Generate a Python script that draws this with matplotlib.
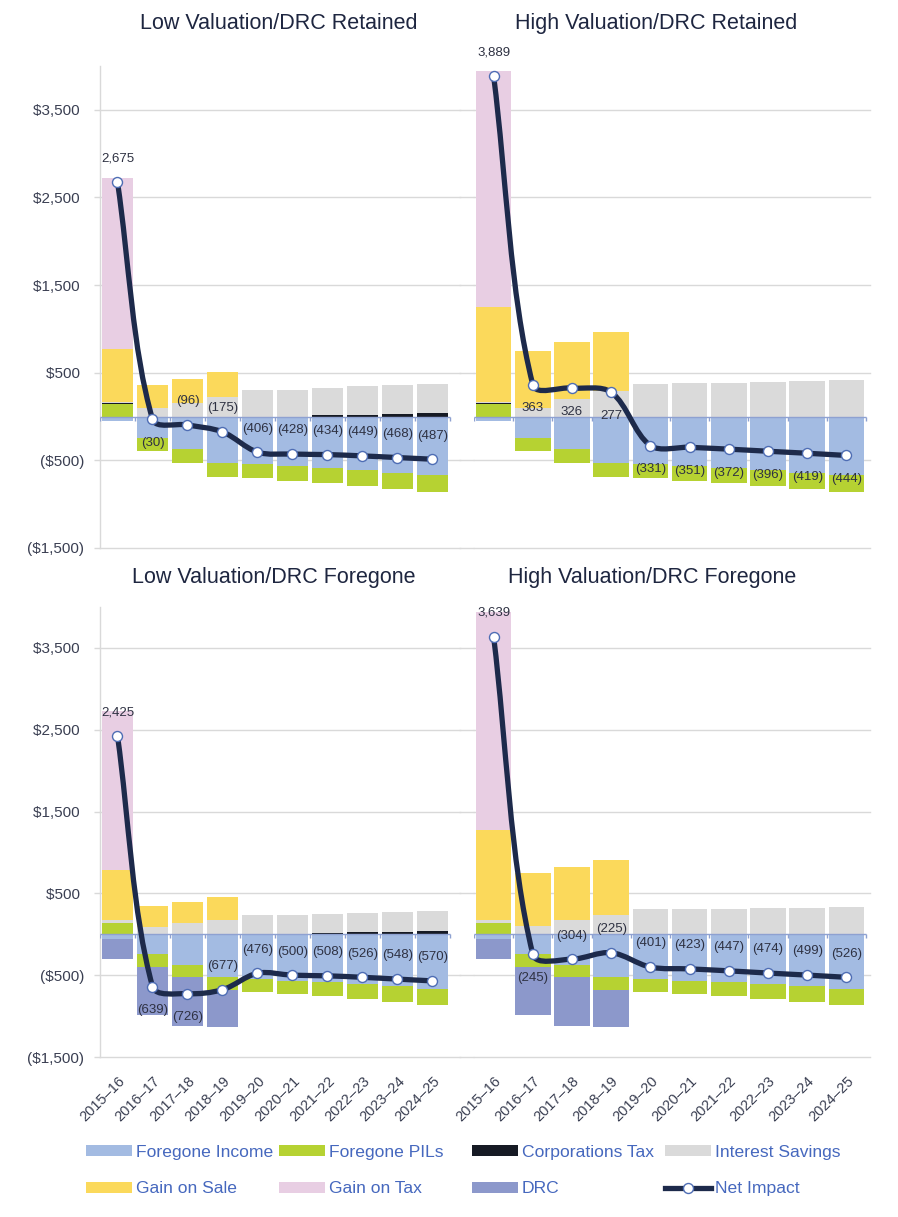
import numpy as np
import matplotlib
matplotlib.use('Agg')
import matplotlib.pyplot as plt
from matplotlib.path import Path
from matplotlib.patches import PathPatch, Patch
from matplotlib.lines import Line2D
from matplotlib.ticker import FuncFormatter, FixedLocator
import matplotlib.transforms as mtransforms

plt.rcParams['font.family'] = ['Liberation Sans', 'DejaVu Sans']

# ---------------- data ----------------
years = ['2015–16', '2016–17', '2017–18', '2018–19', '2019–20',
         '2020–21', '2021–22', '2022–23', '2023–24', '2024–25']

series_names = ['Foregone Income', 'Foregone PILs', 'Corporations Tax',
                'Interest Savings', 'Gain on Sale', 'Gain on Tax', 'DRC']

# Low Valuation / DRC Retained
lr_income   = [-50, -250, -370, -530, -540, -570, -585, -612, -640, -665]
lr_pils     = [140, -140, -160, -155, -165, -165, -175, -180, -185, -196]
lr_corp     = [10, 0, 0, 0, 0, 0, 15, 20, 30, 40]
lr_interest = [15, 95, 160, 225, 299, 307, 311, 323, 327, 334]
lr_sale     = [610, 265, 274, 285, 0, 0, 0, 0, 0, 0]
lr_taxgain  = [1950, 0, 0, 0, 0, 0, 0, 0, 0, 0]
lr_drc      = [0, 0, 0, 0, 0, 0, 0, 0, 0, 0]
lr_net      = [2675, -30, -96, -175, -406, -428, -434, -449, -468, -487]

# High Valuation / DRC Retained
hr_income   = [-50, -250, -370, -530, -540, -570, -585, -612, -640, -665]
hr_pils     = [140, -140, -160, -155, -165, -165, -175, -180, -185, -196]
hr_corp     = [10, 0, 0, 0, 0, 0, 0, 0, 0, 0]
hr_interest = [15, 100, 202, 286, 374, 384, 388, 396, 406, 417]
hr_sale     = [1090, 653, 654, 676, 0, 0, 0, 0, 0, 0]
hr_taxgain  = [2684, 0, 0, 0, 0, 0, 0, 0, 0, 0]
hr_drc      = [0, 0, 0, 0, 0, 0, 0, 0, 0, 0]
hr_net      = [3889, 363, 326, 277, -331, -351, -372, -396, -419, -444]

# Low Valuation / DRC Foregone
lf_income   = [-55, -245, -378, -525, -548, -565, -585, -612, -638, -670]
lf_pils     = [135, -155, -147, -155, -158, -170, -173, -180, -185, -190]
lf_corp     = [8, 0, 0, 0, 0, 0, 15, 25, 32, 40]
lf_interest = [35, 86, 139, 180, 230, 235, 235, 241, 243, 250]
lf_sale     = [612, 265, 260, 273, 0, 0, 0, 0, 0, 0]
lf_taxgain  = [1940, 0, 0, 0, 0, 0, 0, 0, 0, 0]
lf_drc      = [-250, -590, -600, -450, 0, 0, 0, 0, 0, 0]
lf_net      = [2425, -639, -726, -677, -476, -500, -508, -526, -548, -570]

# High Valuation / DRC Foregone
hf_income   = [-55, -245, -378, -525, -548, -565, -585, -612, -638, -670]
hf_pils     = [135, -155, -147, -155, -158, -170, -173, -180, -185, -190]
hf_corp     = [8, 0, 0, 0, 0, 0, 0, 0, 0, 0]
hf_interest = [35, 100, 170, 240, 305, 312, 311, 318, 324, 334]
hf_sale     = [1100, 645, 651, 665, 0, 0, 0, 0, 0, 0]
hf_taxgain  = [2666, 0, 0, 0, 0, 0, 0, 0, 0, 0]
hf_drc      = [-250, -590, -600, -450, 0, 0, 0, 0, 0, 0]
hf_net      = [3639, -245, -304, -225, -401, -423, -447, -474, -499, -526]

y_ticks = [-1500, -500, 500, 1500, 2500, 3500]

# ---------------- style ----------------
colors = ['#A3BBE2', '#B6D232', '#161A24', '#DADADA', '#FBD95B', '#E8CEE3', '#8C98CB']
line_color = '#1D2A4B'
marker_edge = '#4E6DB4'
grid_color = '#D9D9D9'
zero_color = '#8EA1D1'
tick_color = '#3A3F52'
title_color = '#1E2640'
label_color = '#2E3142'
legend_text = '#4668BE'

W, H = 898, 1217
fig = plt.figure(figsize=(W / 100, H / 100), dpi=100)


def rect(l, t, r, b):
    return [l / W, 1 - b / H, (r - l) / W, (b - t) / H]


panels = [
    dict(title='Low Valuation/DRC Retained', box=(100, 66, 460, 548), xmax=9.786,
         left=True, bottom=False, tx=278.5, ty=29,
         data=[lr_income, lr_pils, lr_corp, lr_interest, lr_sale, lr_taxgain, lr_drc],
         net=lr_net, pos=['a', 'b', 'a', 'a', 'a', 'a', 'a', 'a', 'a', 'a']),
    dict(title='High Valuation/DRC Retained', box=(474, 66, 870, 548), xmax=9.602,
         left=False, bottom=False, tx=656, ty=29,
         data=[hr_income, hr_pils, hr_corp, hr_interest, hr_sale, hr_taxgain, hr_drc],
         net=hr_net, pos=['a', 'b', 'b', 'b', 'b', 'b', 'b', 'b', 'b', 'b']),
    dict(title='Low Valuation/DRC Foregone', box=(100, 607, 460, 1057), xmax=9.786,
         left=True, bottom=True, tx=274, ty=583,
         data=[lf_income, lf_pils, lf_corp, lf_interest, lf_sale, lf_taxgain, lf_drc],
         net=lf_net, pos=['a', 'b', 'b', 'a', 'a', 'a', 'a', 'a', 'a', 'a']),
    dict(title='High Valuation/DRC Foregone', box=(474, 607, 870, 1057), xmax=9.602,
         left=False, bottom=True, tx=652, ty=583,
         data=[hf_income, hf_pils, hf_corp, hf_interest, hf_sale, hf_taxgain, hf_drc],
         net=hf_net, pos=['a', 'b', 'a', 'a', 'a', 'a', 'a', 'a', 'a', 'a']),
]


def money(v, _=None):
    v = int(round(v))
    if v < 0:
        return '(${:,})'.format(-v)
    return '${:,} '.format(v)


def num_label(v):
    return '({:,})'.format(-v) if v < 0 else '{:,}'.format(v)


def smooth_path(ax, xs, ys):
    pts = np.column_stack([xs, ys]).astype(float)
    disp = ax.transData.transform(pts)
    n = len(pts)
    d = np.hypot(*np.diff(disp, axis=0).T)
    verts = [pts[0]]
    codes = [Path.MOVETO]
    for i in range(n - 1):
        p1, p2 = pts[i], pts[i + 1]
        d12 = d[i]
        if i > 0:
            d01 = d[i - 1]
            c1 = p1 + (p2 - pts[i - 1]) * d12 / (d01 + d12) / 3
        else:
            c1 = p1 + (p2 - p1) / 3
        if i + 2 < n:
            d23 = d[i + 1]
            c2 = p2 - (pts[i + 2] - p1) * d12 / (d12 + d23) / 3
        else:
            c2 = p2 - (p2 - p1) / 3
        verts += [c1, c2, p2]
        codes += [Path.CURVE4] * 3
    return Path(verts, codes)


x = np.arange(len(years))
for p in panels:
    ax = fig.add_axes(rect(*p['box']))
    ax.set_xlim(-0.5, p['xmax'])
    ax.set_ylim(-1500, 4000)
    for s in ['top', 'right', 'bottom']:
        ax.spines[s].set_visible(False)
    if p['left']:
        ax.spines['left'].set_color(grid_color)
        ax.spines['left'].set_linewidth(1.0)
    else:
        ax.spines['left'].set_visible(False)
    ax.yaxis.set_major_locator(FixedLocator(y_ticks))
    ax.yaxis.set_major_formatter(FuncFormatter(money))
    ax.grid(axis='y', color=grid_color, linewidth=1.0, zorder=0)
    for gl in ax.get_ygridlines():
        gl.set_clip_on(False)
    ax.set_axisbelow(True)
    ax.tick_params(axis='y', length=(4.3 if p['left'] else 10.5), color=grid_color,
                   width=1.0, pad=7, labelsize=11, labelcolor=tick_color,
                   labelleft=p['left'])
    # stacked bars
    pos_base = np.zeros(len(x))
    neg_base = np.zeros(len(x))
    for vals, c, name in zip(p['data'], colors, series_names):
        v = np.asarray(vals, dtype=float)
        bottom = np.where(v >= 0, pos_base, neg_base)
        ax.bar(x, v, bottom=bottom, width=0.91, color=c, linewidth=0, zorder=2, label=name)
        pos_base = pos_base + np.where(v > 0, v, 0)
        neg_base = neg_base + np.where(v < 0, v, 0)
    # category axis at zero
    ax.hlines(0, -0.5, len(x) - 0.5, color=zero_color, linewidth=1.0, zorder=3)
    bounds = np.arange(len(x) + 1) - 0.5
    ax.plot(bounds, np.zeros(len(bounds)), linestyle='none', marker=3, markersize=3,
            markeredgewidth=1.0, color=zero_color, zorder=3)
    # x tick labels
    ax.set_xticks(x)
    if p['bottom']:
        ax.set_xticklabels(years, rotation=45, ha='right', va='top',
                           rotation_mode='anchor', fontsize=10.5, color=tick_color)
        ax.tick_params(axis='x', length=0, pad=12)
        off = mtransforms.ScaledTranslation(0 / 100, 0, fig.dpi_scale_trans)
        for lab in ax.get_xticklabels():
            lab.set_transform(lab.get_transform() + off)
    else:
        ax.tick_params(axis='x', length=0, labelbottom=False)
    # net impact smoothed line
    net = np.asarray(p['net'], dtype=float)
    path = smooth_path(ax, x, net)
    ax.add_patch(PathPatch(path, facecolor='none', edgecolor=line_color, linewidth=3.8,
                           capstyle='round', joinstyle='round', zorder=4))
    ax.plot(x, net, linestyle='none', marker='o', markersize=7.2, markerfacecolor='white',
            markeredgecolor=marker_edge, markeredgewidth=1.0, zorder=5)
    for xi, v, where in zip(x, p['net'], p['pos']):
        dy = 17 if where == 'a' else -17
        ax.annotate(num_label(v), (xi, v), xytext=(0, dy), textcoords='offset points',
                    ha='center', va='center', fontsize=9.5, color=label_color, zorder=6)
    fig.text(p['tx'] / W, 1 - p['ty'] / H, p['title'], ha='center', va='baseline',
             fontsize=15.5, color=title_color)

# ---------------- legend ----------------
handles = [Patch(facecolor=c, edgecolor='none', label=n) for c, n in zip(colors, series_names)]
handles.append(Line2D([0], [0], color=line_color, linewidth=3.8, marker='o', markersize=7.2,
                      markerfacecolor='white', markeredgecolor=marker_edge,
                      markeredgewidth=1.0, label='Net Impact'))
columns = [(0, 4), (1, 5), (2, 6), (3, 7)]
col_x = [86, 279, 472, 665]
for (i, j), cx in zip(columns, col_x):
    leg = fig.legend(handles=[handles[i], handles[j]], loc='upper left',
                     bbox_to_anchor=(cx / W, 1 - 1145 / H), frameon=False,
                     fontsize=12.6, handlelength=2.6, handleheight=0.58,
                     handletextpad=0.25, labelspacing=1.22, borderpad=0,
                     borderaxespad=0)
    for t in leg.get_texts():
        t.set_color(legend_text)

fig.savefig('out.png', dpi=100)
